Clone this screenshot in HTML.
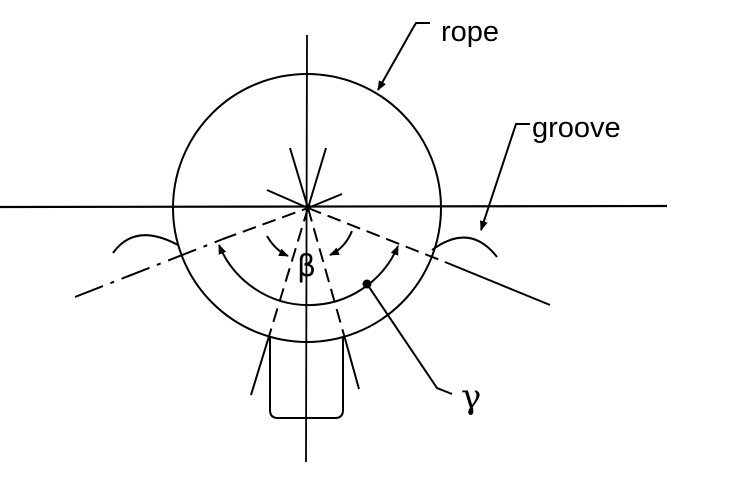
<!DOCTYPE html>
<html><head><style>html,body{margin:0;padding:0;background:#fff}svg{display:block}</style></head>
<body>
<svg width="741" height="480" viewBox="0 0 741 480" xmlns="http://www.w3.org/2000/svg">
<defs>
<marker id="ah" markerWidth="10" markerHeight="8" refX="9" refY="4" orient="auto-start-reverse" markerUnits="userSpaceOnUse"><path d="M0,0 L10,4 L0,8 Z" fill="#000"/></marker>
</defs>
<g stroke="#000" fill="none" stroke-width="2">
<line x1="0" y1="207" x2="667" y2="206" stroke-width="2.2"/>
<line x1="307" y1="35" x2="306" y2="462" stroke-width="1.8"/>
<circle cx="307" cy="208" r="134"/>
<path d="M270,336 L270,410 Q270,418 278,418 L335,418 Q343,418 343,410 L343,336"/>
<line x1="75" y1="297" x2="223" y2="239" stroke-dasharray="30,8,4,8"/>
<line x1="223" y1="239" x2="308" y2="208" stroke-dasharray="14,7"/>
<line x1="308" y1="208" x2="342" y2="194"/>
<line x1="308" y1="208" x2="445" y2="262" stroke-dasharray="14,7"/>
<line x1="445" y1="262" x2="550" y2="305"/>
<line x1="308" y1="208" x2="267" y2="190"/>
<line x1="326" y1="148" x2="308" y2="208"/>
<line x1="308" y1="208" x2="270" y2="333" stroke-dasharray="14,7"/>
<line x1="270" y1="333" x2="251" y2="395"/>
<line x1="290" y1="148" x2="308" y2="208"/>
<line x1="308" y1="208" x2="344" y2="335" stroke-dasharray="14,7"/>
<line x1="344" y1="335" x2="359" y2="389"/>
<path d="M219,245 A97,97 0 0 0 398,246" marker-start="url(#ah)" marker-end="url(#ah)"/>
<circle cx="367" cy="284" r="3.5" fill="#000"/>
<polyline points="367,284 437,388 452,394"/>
<path d="M267,236 Q275,250 288,256" marker-end="url(#ah)"/>
<path d="M352,231 Q345,248 330,255" marker-end="url(#ah)"/>
<path d="M113,253 Q135,222 178,245"/>
<path d="M432,250 Q470,222 497,257"/>
<polyline points="413,28 378,90" marker-end="url(#ah)"/>
<polyline points="413,28 416,23 430,23"/>
<polyline points="530,124 516,124 481,230" marker-end="url(#ah)"/>
</g>
<g font-family="Liberation Sans, sans-serif" fill="#000">
<text x="441" y="41" font-size="29">rope</text>
<text x="532" y="137" font-size="29">groove</text>
<text x="297" y="276" font-size="30" font-family="DejaVu Sans, sans-serif">β</text>
<text x="461" y="408" font-size="34" font-family="DejaVu Serif, serif">γ</text>
</g>
</svg>
</body></html>
